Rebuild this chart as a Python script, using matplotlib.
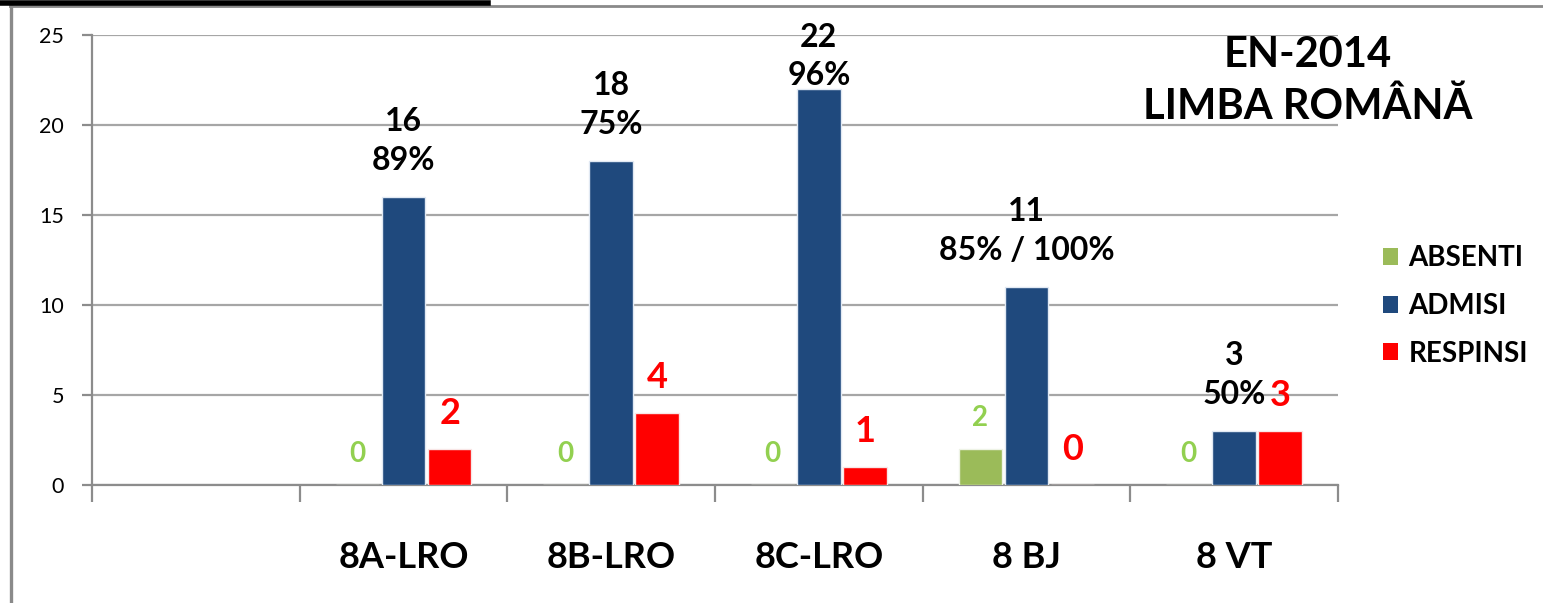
import matplotlib
matplotlib.use("Agg")
import matplotlib.pyplot as plt
from matplotlib.lines import Line2D
import numpy as np

plt.rcParams['font.family'] = ['Lato', 'DejaVu Sans']

# ---- data ----
categories = ['', '8A-LRO', '8B-LRO', '8C-LRO', '8 BJ', '8 VT']
absenti = [None, 0, 0, 0, 2, 0]
admisi = [None, 16, 18, 22, 11, 3]
respinsi = [None, 2, 4, 1, 0, 3]
admisi_pct = [None, '89%', '75%', '96%', '85% / 100%', '50%']
series_names = ['ABSENTI', 'ADMISI', 'RESPINSI']
title_lines = ['EN-2014', 'LIMBA ROMÂNĂ']

# ---- style ----
c_abs, c_adm, c_res = '#9BBB59', '#1F497D', '#FF0000'
c_abs_lbl = '#92D050'
gray = '#8C8C8C'

W, H = 1543, 603
fig = plt.figure(figsize=(W / 100, H / 100), dpi=100)
ax = fig.add_axes([92 / W, 1 - 485 / H, (1338 - 92) / W, 450 / H])

x = np.arange(len(categories))
bw, off = 0.21, 0.222

def vals(a):
    return [np.nan if v is None else v for v in a]

b1 = ax.bar(x - off, vals(absenti), bw, color=c_abs, edgecolor='#EEF3E6', linewidth=1.0, zorder=3)
b2 = ax.bar(x, vals(admisi), bw, color=c_adm, edgecolor='#E1E9F3', linewidth=1.0, zorder=3)
b3 = ax.bar(x + off, vals(respinsi), bw, color=c_res, edgecolor='#F8E6E6', linewidth=1.0, zorder=3)

ax.set_xlim(-0.5, len(categories) - 0.5)
ax.set_ylim(0, 25)
ax.set_yticks(np.arange(0, 26, 5))
ax.yaxis.grid(True, color='#A6A6A6', linewidth=1.6)
ax.set_axisbelow(True)

for s in ['top', 'right']:
    ax.spines[s].set_visible(False)
for s in ['left', 'bottom']:
    ax.spines[s].set_color(gray)
    ax.spines[s].set_linewidth(1.6)

ax.tick_params(axis='y', length=7, width=1.6, color=gray, labelsize=15.5, pad=13)
ax.set_xticks(x)
ax.set_xticklabels(categories, fontsize=26, fontweight='bold')
ax.tick_params(axis='x', which='major', length=0, pad=40)
ax.set_xticks(np.arange(-0.5, len(categories), 1), minor=True)
ax.tick_params(axis='x', which='minor', length=12, width=1.6, color=gray)

# data labels
for i in range(len(categories)):
    if admisi[i] is None:
        continue
    v = admisi[i]
    ax.text(x[i], min(v + 3.1, 23.8), f"{v}\n{admisi_pct[i]}", ha='center', va='center',
            fontsize=23, fontweight='bold', color='black', linespacing=1.4, zorder=5)
    ax.text(x[i] - off, absenti[i] + 1.7, f"{absenti[i]}", ha='center', va='center',
            fontsize=20, fontweight='bold', color=c_abs_lbl, zorder=5)
    ax.text(x[i] + off, respinsi[i] + 2.0, f"{respinsi[i]}", ha='center', va='center',
            fontsize=26, fontweight='bold', color=c_res, zorder=5)

# title
fig.text(1308 / W, 1 - 81 / H, "\n".join(title_lines), ha='center', va='center',
         fontsize=30, fontweight='bold', linespacing=1.4)

# legend
leg = ax.legend([b1, b2, b3], series_names, loc='center left',
                bbox_to_anchor=(1383 / W, 1 - 306 / H), bbox_transform=fig.transFigure,
                frameon=False, prop=dict(weight='bold', size=20),
                handlelength=0.55, handleheight=0.55, handletextpad=0.36,
                labelspacing=0.78, borderpad=0, borderaxespad=0)
for h in leg.legend_handles:
    h.set_edgecolor('none')

# outer frame lines
fig.add_artist(Line2D([10 / W, 1], [1 - 6 / H, 1 - 6 / H], color='#8A8A8A', lw=2.0))
fig.add_artist(Line2D([10.5 / W, 10.5 / W], [0, 1 - 6 / H], color='#8A8A8A', lw=2.4))
fig.add_artist(Line2D([0, 488 / W], [1 - 2.5 / H, 1 - 2.5 / H], color='black', lw=4.0))

fig.savefig('out.png', dpi=100)
